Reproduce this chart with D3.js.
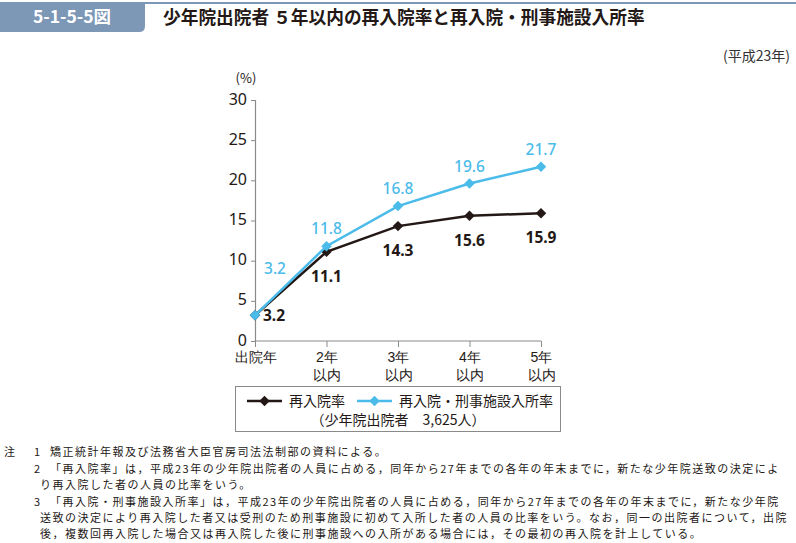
<!DOCTYPE html>
<html>
<head>
<meta charset="utf-8">
<script src="https://cdn.jsdelivr.net/npm/d3@7"></script>
<style>
  body { margin: 0; background: #fff; }
  svg { font-family: "Noto Sans CJK JP", "Noto Sans", sans-serif; }
</style>
</head>
<body>
<div id="chart"></div>
<script>
var categories = ['出院年', '2年|以内', '3年|以内', '4年|以内', '5年|以内'];
var reentryRate = [3.2, 11.1, 14.3, 15.6, 15.9];
var reentryOrPrisonRate = [3.2, 11.8, 16.8, 19.6, 21.7];
var yTicks = [0, 5, 10, 15, 20, 25, 30];
var notes = [
  ['注', '1', '矯正統計年報及び法務省大臣官房司法法制部の資料による。'],
  ['', '2', '「再入院率」は，平成23年の少年院出院者の人員に占める，同年から27年までの各年の年末までに，新たな少年院送致の決定によ'],
  ['', '', 'り再入院した者の人員の比率をいう。'],
  ['', '3', '「再入院・刑事施設入所率」は，平成23年の少年院出院者の人員に占める，同年から27年までの各年の年末までに，新たな少年院'],
  ['', '', '送致の決定により再入院した者又は受刑のため刑事施設に初めて入所した者の人員の比率をいう。なお，同一の出院者について，出院'],
  ['', '', '後，複数回再入院した場合又は再入院した後に刑事施設への入所がある場合には，その最初の再入院を計上している。']
];

var W = 796, H = 543;
var black = '#231815', blue = '#4bbbea', slate = '#7d97b6';

var svg = d3.select('#chart').append('svg')
  .attr('width', W).attr('height', H);

// header
svg.append('rect').attr('x', 0).attr('y', 2).attr('width', W).attr('height', 2).attr('fill', slate);
svg.append('path')
  .attr('d', 'M0,2 H145 V26 Q145,32 139,32 H0 Z')
  .attr('fill', slate);
svg.append('text').attr('x', 72).attr('y', 23).attr('text-anchor', 'middle')
  .attr('fill', '#fff').attr('font-size', 17.5).attr('font-weight', 'bold')
  .text('5-1-5-5図');
svg.append('text').attr('x', 163).attr('y', 24)
  .attr('fill', '#231815').attr('font-size', 17.7).attr('font-weight', 'bold')
  .text('少年院出院者 ５年以内の再入院率と再入院・刑事施設入所率');
svg.append('text').attr('x', 790).attr('y', 61).attr('text-anchor', 'end')
  .attr('fill', '#333').attr('font-size', 14)
  .text('(平成23年)');

// scales
var x = d3.scalePoint().domain(categories).range([255, 541]);
var y = d3.scaleLinear().domain([0, 30]).range([341, 100]);

var axisColor = '#8a8a8a';
var yAxis = svg.append('g').attr('transform', 'translate(255,0)')
  .call(d3.axisLeft(y).tickValues(yTicks).tickSize(4).tickPadding(4));
yAxis.select('.domain').attr('stroke', axisColor).attr('stroke-width', 1.2);
yAxis.selectAll('.tick line').attr('stroke', axisColor);
yAxis.selectAll('.tick text').attr('fill', '#231815').attr('font-size', 16)
  .attr('dy', '0.25em')
  .attr('font-family', '"Noto Sans", sans-serif');
svg.append('text').attr('x', 246).attr('y', 83).attr('text-anchor', 'middle')
  .attr('fill', '#231815').attr('font-size', 13).text('(%)');

var xAxis = svg.append('g').attr('transform', 'translate(0,341)')
  .call(d3.axisBottom(x).tickSize(6).tickFormat(''));
xAxis.select('.domain').attr('stroke', axisColor).attr('stroke-width', 1.2).attr('d', 'M255,0H541');
xAxis.selectAll('.tick line').attr('stroke', axisColor);
xAxis.selectAll('.tick').each(function (d) {
  var parts = d.split('|');
  var t = d3.select(this).append('text').attr('fill', '#231815')
    .attr('font-size', 14).attr('text-anchor', 'middle');
  parts.forEach(function (p, i) {
    t.append('tspan').attr('x', 0).attr('y', 21 + i * 18).text(p);
  });
});

var line = d3.line().x((d, i) => x(categories[i])).y(d => y(d));
var diamond = d3.symbol().type(d3.symbolDiamond2).size(70);

function drawSeries (values, color) {
  svg.append('path').datum(values)
    .attr('d', line).attr('fill', 'none')
    .attr('stroke', color).attr('stroke-width', 2.5);
  svg.selectAll(null).data(values).enter().append('path')
    .attr('d', diamond)
    .attr('transform', (d, i) => `translate(${x(categories[i])},${y(d)})`)
    .attr('fill', color);
}
drawSeries(reentryRate, black);
drawSeries(reentryOrPrisonRate, blue);

// value labels
svg.selectAll(null).data(reentryOrPrisonRate).enter().append('text')
  .attr('x', (d, i) => i === 0 ? x(categories[i]) + 20 : x(categories[i]))
  .attr('y', (d, i) => i === 0 ? y(d) - 41 : y(d) - 12)
  .attr('text-anchor', 'middle').attr('fill', blue).attr('font-size', 15.5)
  .attr('font-weight', 500)
  .attr('font-family', '"Noto Sans", sans-serif')
  .text(d => d.toFixed(1));
svg.selectAll(null).data(reentryRate).enter().append('text')
  .attr('x', (d, i) => i === 0 ? x(categories[i]) + 8 : x(categories[i]))
  .attr('y', (d, i) => i === 0 ? y(d) + 6 : y(d) + 30)
  .attr('text-anchor', (d, i) => i === 0 ? 'start' : 'middle')
  .attr('fill', black).attr('font-size', 15.5).attr('font-weight', 'bold')
  .attr('font-family', '"Noto Sans", sans-serif')
  .text(d => d.toFixed(1));

// legend
var lg = svg.append('g');
lg.append('rect').attr('x', 235.5).attr('y', 386.5).attr('width', 325).attr('height', 45)
  .attr('fill', '#fff').attr('stroke', '#8a8a8a').attr('stroke-width', 1);
[[black, 247, '再入院率'], [blue, 357, '再入院・刑事施設入所率']].forEach(function (s) {
  lg.append('line').attr('x1', s[1]).attr('x2', s[1] + 35).attr('y1', 401).attr('y2', 401)
    .attr('stroke', s[0]).attr('stroke-width', 2.5);
  lg.append('path').attr('d', diamond).attr('transform', `translate(${s[1] + 17.5},401)`).attr('fill', s[0]);
  lg.append('text').attr('x', s[1] + 42).attr('y', 406).attr('fill', '#231815')
    .attr('font-size', 14).text(s[2]);
});
lg.append('text').attr('x', 398).attr('y', 425).attr('text-anchor', 'middle')
  .attr('fill', '#231815').attr('font-size', 14).text('（少年院出院者　3,625人）');

// notes
var ny = [456, 473, 489, 506, 522, 538];
notes.forEach(function (n, i) {
  var g = svg.append('g').attr('fill', '#231815').attr('font-size', 11)
    .attr('letter-spacing', 1.5);
  if (n[0]) g.append('text').attr('x', 4).attr('y', ny[i]).text(n[0]);
  if (n[1]) g.append('text').attr('x', 34).attr('y', ny[i]).text(n[1]);
  g.append('text').attr('x', n[1] ? 50 : 40).attr('y', ny[i]).text(n[2]);
});
</script>
</body>
</html>
